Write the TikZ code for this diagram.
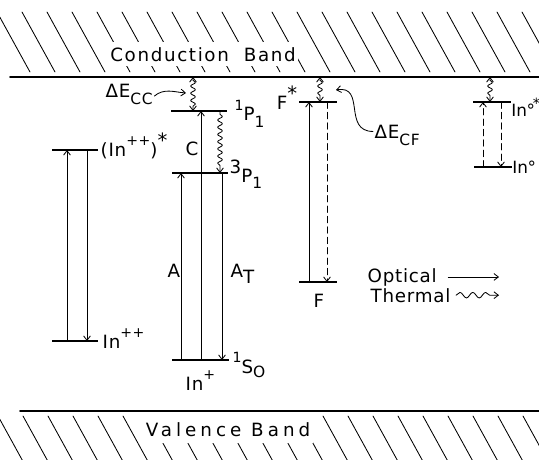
\documentclass[tikz,border=0pt]{standalone}
\usepackage{fontspec}
\setmainfont{DejaVu Sans}[LetterSpace=4]
\usetikzlibrary{arrows.meta,decorations.pathmorphing,positioning}

\newcommand{\hi}[2][1ex]{\raisebox{#1}{\fontsize{10}{10}\selectfont #2}}
\newcommand{\lo}[2][-0.7ex]{\raisebox{#1}{\fontsize{11}{11}\selectfont #2}}

\begin{document}
\begin{tikzpicture}[x=0.25mm,y=-0.25mm,line cap=round,line join=round,
  >={Straight Barb[length=1.1mm,width=1.7mm]},
  every node/.style={inner sep=1pt,font=\fontsize{13}{15}\selectfont},
  band/.style={line width=1.3pt},
  hatch/.style={line width=0.6pt},
  level/.style={line width=1.8pt,line cap=butt},
  optic/.style={line width=0.6pt},
  broken/.style={line width=0.6pt,dash pattern=on 1.6mm off 1mm},
  heat/.style={line width=0.6pt,decorate,decoration={snake,amplitude=0.6mm,
    segment length=1.8mm,pre length=0.8mm,post length=1.1mm}},
  bandname/.style={fill=white,anchor=base,inner xsep=0.6mm,inner ysep=1.3mm},
  tight/.style={anchor=base west,inner sep=0pt,font=\fontsize{12}{14}\selectfont\addfontfeature{LetterSpace=0}}]
  \useasboundingbox (0,0) rectangle (539,459);

  % hatching of the two bands
  \foreach \x in {-3,22,...,540}{
    \draw[hatch] (\x,12) -- ++(33,60);
  }
  \foreach \x in {-2,23,...,540}{
    \draw[hatch] (\x,416) -- ++(33,60);
  }
  \node[bandname,font=\fontsize{13}{15}\selectfont\addfontfeature{LetterSpace=9}] (cb) at (203,61) {Conduction\ \ Band};
  \node[bandname,inner ysep=1.8mm,font=\fontsize{13}{15}\selectfont\addfontfeature{LetterSpace=22}] (vb) at (228,436) {Valence Band};
  \draw[band] (10,77) coordinate (cbl) -- (539,77) coordinate (cbr);
  \draw[band] (20,411) coordinate (vbl) -- (539,411) coordinate (vbr);

  % levels
  \draw[level] (52,150) coordinate (Dsl) -- (98,150) coordinate (Dsr);
  \draw[level] (52,341) coordinate (Dl) -- (98,341) coordinate (Dr);
  \draw[level] (171,111) coordinate (Pal) -- (227,111) coordinate (Par);
  \draw[level] (172,173) coordinate (Pbl) -- (228,173) coordinate (Pbr);
  \draw[level] (172,360) coordinate (Sl) -- (229,360) coordinate (Sr);
  \draw[level] (299,102) coordinate (Fsl) -- (337,102) coordinate (Fsr);
  \draw[level] (299,282) coordinate (Fl) -- (337,282) coordinate (Fr);
  \draw[level] (473,102) coordinate (Osl) -- (511,102) coordinate (Osr);
  \draw[level] (474,167) coordinate (Ol) -- (512,167) coordinate (Or);

  % In++
  \draw[optic,->] (Dl -| 67,0) -- (Dsl -| 67,0);
  \draw[optic,->] (Dsl -| 87,0) -- (Dl -| 87,0);
  % In+
  \draw[optic,->] (Sl -| 181,0) -- (Pbl -| 181,0);
  \draw[optic,->] (Sl -| 201,0) -- (Pal -| 201,0);
  \draw[optic,->] (Pbl -| 222,0) -- (Sl -| 222,0);
  \draw[heat,->] (Pal -| 220,0) -- (Pbl -| 220,0);
  \draw[heat,<->] (cbl -| 193,0) -- (Pal -| 193,0);
  % F centre
  \draw[optic,->] (Fl -| 309,0) -- (Fsl -| 309,0);
  \draw[broken,->] (Fsl -| 327,0) -- (Fl -| 327,0);
  \draw[heat,<->] (cbl -| 320,0) -- (Fsl -| 320,0);
  % In0
  \draw[broken,->] (Ol -| 483,0) -- (Osl -| 483,0);
  \draw[broken,->] (Osl -| 501,0) -- (Ol -| 501,0);
  \draw[heat,<->] (cbl -| 490,0) -- (Osl -| 490,0);

  % labels
  \node[anchor=base west] (lDs) at (99,156) {(In\hi[1.1ex]{++})\hi[0.9ex]{\fontsize{14}{14}\selectfont *}};
  \node[anchor=base west] (lD) at (101,348) {In\hi[1.1ex]{++}};
  \node[anchor=base west] (lPa) at (233,120) {\hi{1}P\lo{1}};
  \node[anchor=base west] (lPb) at (228,182) {\hi[0.9ex]{\fontsize{13}{13}\selectfont 3}P\lo{1}};
  \node[anchor=base west] (lS) at (231,373) {\hi[1.1ex]{1}S\lo[-0.4ex]{O}};
  \node[anchor=base west] (lIn) at (184,390) {In\hi[1.1ex]{+}};
  \node[anchor=base west] (lA) at (166,277) {A};
  \node[anchor=base west] (lAT) at (229,277) {A\lo[-0.6ex]{\fontsize{13}{13}\selectfont T}};
  \node[anchor=base west] (lC) at (184,155) {C};
  \node[anchor=base east] (lFs) at (299,109) {F\hi[0.9ex]{\fontsize{14}{14}\selectfont *}};
  \node[anchor=base west] (lF) at (312,307) {F};
  \node[tight] (lOs) at (511,116) {In\kern-0.3pt°\kern-1.5pt\hi[0.8ex]{\fontsize{10}{10}\selectfont *}};
  \node[tight] (lO) at (512,173) {In\kern-0.3pt°};
  \node[anchor=base west] (dEcc) at (104,97) {ΔE\lo[-0.8ex]{CC}};
  \node[anchor=base west] (dEcf) at (373,138) {ΔE\lo[-0.8ex]{CF}};

  % pointers to the thermal gaps
  \coordinate (pcc) at (186,93);
  \coordinate (pcf) at (336,90);
  \draw[optic,->] ([yshift=-0.4mm]dEcc.east) to[out=40,in=175] (pcc);
  \draw[optic,->] ([yshift=1mm]dEcf.west) to[out=180,in=10,looseness=1.4] (pcf);

  % legend
  \node[anchor=base west] (optical) at (366,282) {Optical};
  \node[anchor=base west] (thermal) at (369,302) {Thermal};
  \coordinate (optend) at (499,0);
  \coordinate (thmend) at (499,0);
  \draw[optic,->] ([xshift=2.5mm]optical.east) -- (optical.east -| optend);
  \draw[line width=0.6pt,->,decorate,decoration={snake,amplitude=0.7mm,
    segment length=3.2mm,post length=1.5mm}] ([xshift=1mm]thermal.east) -- (thermal.east -| thmend);
\end{tikzpicture}
\end{document}
